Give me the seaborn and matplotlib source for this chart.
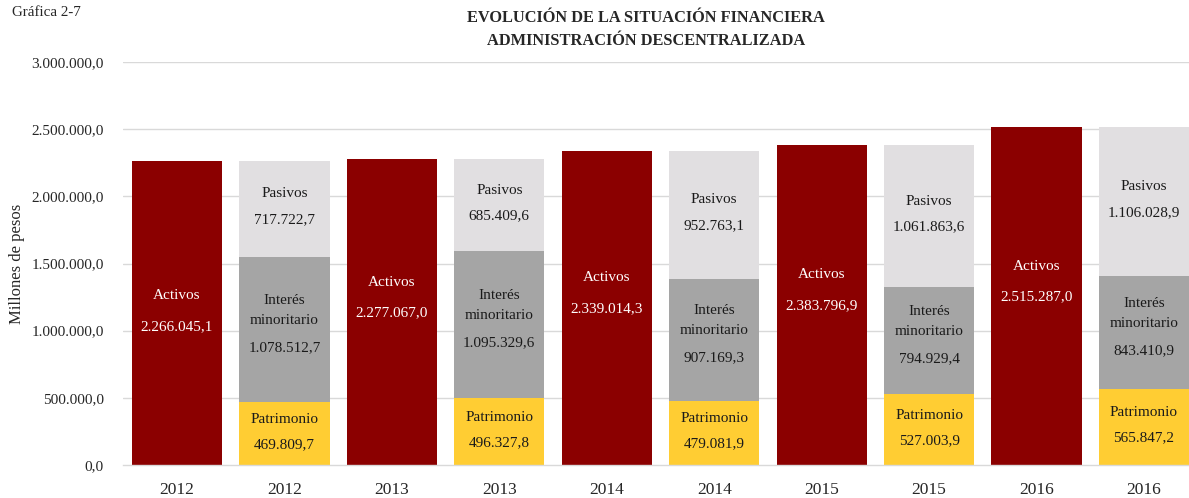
import matplotlib
matplotlib.use("Agg")
import matplotlib.pyplot as plt
import seaborn as sns
import pandas as pd
import numpy as np

years = ["2012", "2013", "2014", "2015", "2016"]
activos = [2266045.1, 2277067.0, 2339014.3, 2383796.9, 2515287.0]
patrimonio = [469809.7, 496327.8, 479081.9, 527003.9, 565847.2]
interes = [1078512.7, 1095329.6, 907169.3, 794929.4, 843410.9]
pasivos = [717722.7, 685409.6, 952763.1, 1061863.6, 1106028.9]
yticks = [0, 500000, 1000000, 1500000, 2000000, 2500000, 3000000]

c_act = "#8B0000"
c_pat = "#FFCD33"
c_int = "#A5A5A5"
c_pas = "#E1DFE1"

def fmt(v):
    s = f"{v:,.1f}"
    return s.replace(",", "X").replace(".", ",").replace("X", ".")

slots = []
for y in years:
    slots += ["A" + y, "S" + y]

df_a = pd.DataFrame({"slot": ["A" + y for y in years], "v": activos})
pat = np.array(patrimonio)
intr = np.array(interes)
pas = np.array(pasivos)
df_s = pd.DataFrame({"slot": ["S" + y for y in years],
                     "pat": pat, "pi": pat + intr, "tot": pat + intr + pas})

sns.set_style("white")
plt.rcParams["font.family"] = ["Liberation Serif", "DejaVu Serif"]

fig = plt.figure(figsize=(11.89, 4.98), dpi=100)
ax = fig.add_axes([123.3 / 1189, 1 - 465 / 498, (1197.7 - 123.3) / 1189, (465 - 62) / 498])

for y in yticks[1:]:
    ax.axhline(y, color="#D9D9D9", lw=1, zorder=0)

w = 0.84
kw = dict(order=slots, width=w, saturation=1, ax=ax, linewidth=0, edgecolor="none")
sns.barplot(data=df_a, x="slot", y="v", color=c_act, zorder=2, **kw)
sns.barplot(data=df_s, x="slot", y="tot", color=c_pas, zorder=2, **kw)
sns.barplot(data=df_s, x="slot", y="pi", color=c_int, zorder=3, **kw)
sns.barplot(data=df_s, x="slot", y="pat", color=c_pat, zorder=4, **kw)

fs = 11

def lab(x, y, dy, text, color):
    ax.annotate(text, (x, y), xytext=(0, -dy), textcoords="offset pixels",
                ha="center", va="center", fontsize=fs, color=color, zorder=6)

for i, y in enumerate(years):
    xa = 2 * i
    xs = 2 * i + 1
    ca = activos[i] / 2
    if i == 0:
        lab(xa, ca, -17, "Activos", "white")
        lab(xa, ca, 14, fmt(activos[i]), "white")
    else:
        lab(xa, ca, -30, "Activos", "white")
        lab(xa, ca, 1, fmt(activos[i]), "white")
    cp = patrimonio[i] / 2
    lab(xs, cp, -14, "Patrimonio", "#1a1a1a")
    lab(xs, cp, 11, fmt(patrimonio[i]), "#1a1a1a")
    ci = patrimonio[i] + interes[i] / 2
    lab(xs, ci, -29, "Interés", "#1a1a1a")
    lab(xs, ci, -9, "minoritario", "#1a1a1a")
    lab(xs, ci, 18, fmt(interes[i]), "#1a1a1a")
    cs = patrimonio[i] + interes[i] + pasivos[i] / 2
    lab(xs, cs, -15, "Pasivos", "#1a1a1a")
    lab(xs, cs, 11, fmt(pasivos[i]), "#1a1a1a")

ax.set_ylim(0, 3000000)
ax.set_xlim(-0.5, 9.5)
ax.set_yticks(yticks)
ax.set_yticklabels([fmt(v) for v in yticks], fontsize=11)
ax.set_xticks(range(len(slots)))
ax.set_xticklabels([s[1:] for s in slots], fontsize=12.5)
ax.tick_params(axis="y", length=0, pad=14)
ax.tick_params(axis="x", length=0, pad=12)
ax.set_xlabel("")
ax.set_ylabel("Millones de pesos", fontsize=12, labelpad=5)
for s in ["top", "right", "left"]:
    ax.spines[s].set_visible(False)
ax.spines["bottom"].set_color("#D9D9D9")
ax.spines["bottom"].set_linewidth(1)
ax.spines["bottom"].set_zorder(5)

fig.text((466 + 826) / 2 / 1189, 1 - 18 / 498, "EVOLUCIÓN DE LA SITUACIÓN FINANCIERA",
         ha="center", va="center", fontsize=11.8, fontweight="bold")
fig.text((466 + 826) / 2 / 1189, 1 - 41 / 498, "ADMINISTRACIÓN DESCENTRALIZADA",
         ha="center", va="center", fontsize=11.8, fontweight="bold")
fig.text(12 / 1189, 1 - 12 / 498, "Gráfica 2-7", ha="left", va="center", fontsize=10.8)

leg = ax.get_legend()
if leg is not None:
    leg.remove()

fig.savefig("out.png", dpi=100)
